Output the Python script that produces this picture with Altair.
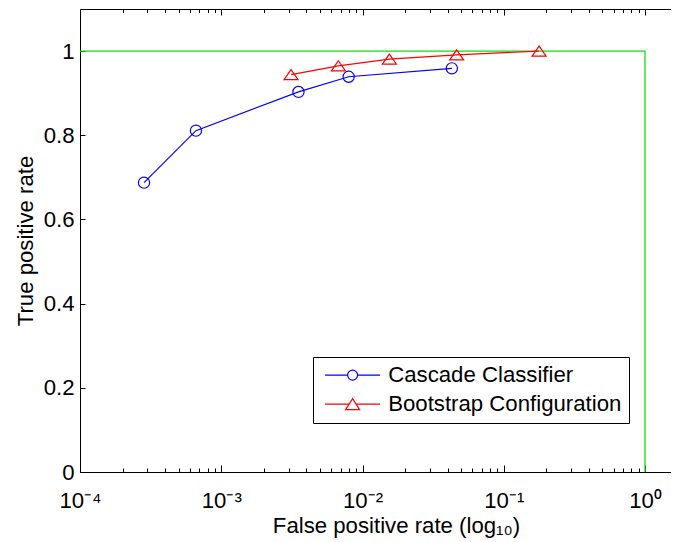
import altair as alt
import pandas as pd

# ---- data ----
series_names = ["Cascade Classifier", "Bootstrap Configuration"]
series_colors = ["#0000ff", "#ff0000"]

cascade_fpr = [2.84e-4, 6.62e-4, 3.52e-3, 7.98e-3, 4.29e-2]
cascade_tpr = [0.6875, 0.811, 0.903, 0.939, 0.959]

boot_fpr = [3.12e-3, 6.75e-3, 1.55e-2, 4.64e-2, 1.78e-1]
boot_tpr = [0.944, 0.965, 0.981, 0.991, 1.0]

ideal_fpr = [1e-4, 1.0, 1.0]
ideal_tpr = [1.0, 1.0, 0.0]

x_domain = [1e-4, 1.5277]
y_domain = [0, 1.1]
x_major = [1e-4, 1e-3, 1e-2, 1e-1, 1.0]
x_major_labels = ["10⁻⁴", "10⁻³", "10⁻²", "10⁻¹", "10⁰"]
x_minor = [0.0002, 0.0003, 0.0004, 0.0005, 0.0006, 0.0007, 0.0008, 0.0009,
           0.002, 0.003, 0.004, 0.005, 0.006, 0.007, 0.008, 0.009,
           0.02, 0.03, 0.04, 0.05, 0.06, 0.07, 0.08, 0.09,
           0.2, 0.3, 0.4, 0.5, 0.6, 0.7, 0.8, 0.9]
y_ticks = [0, 0.2, 0.4, 0.6, 0.8, 1.0]

# marker shapes (unit box -1..1)
circle_path = "M0.8,0A0.8,0.8 0 1,1 -0.8,0A0.8,0.8 0 1,1 0.8,0Z"
tri_path = "M0,-0.72L1,0.72L-1,0.72Z"
# legend symbols: line + marker (drawn at symbol size 400 -> 10 px per unit)
legend_paths = [
    "M-2.75,0L-0.5,0M0.5,0L2.75,0M0.5,0A0.5,0.5 0 1,1 -0.5,0A0.5,0.5 0 1,1 0.5,0Z",
    "M-2.75,0L-0.35,0M0.35,0L2.75,0M0,-0.55L0.7,0.55L-0.7,0.55Z",
]

series_df = pd.DataFrame({
    "fpr": cascade_fpr + boot_fpr,
    "tpr": cascade_tpr + boot_tpr,
    "series": [series_names[0]] * len(cascade_fpr) + [series_names[1]] * len(boot_fpr),
})
ideal_df = pd.DataFrame({"fpr": ideal_fpr, "tpr": ideal_tpr, "i": list(range(len(ideal_fpr)))})

FONT = "Liberation Sans, Arial, Helvetica, sans-serif"
FS = 22.2

xs = alt.Scale(type="log", domain=x_domain, nice=False)
ys = alt.Scale(domain=y_domain, nice=False, zero=False)

label_expr = "[" + ",".join(f"'{s}'" for s in x_major_labels) + "][round(log(datum.value)/LN10)+4]"

x_label_axis = alt.Axis(
    orient="bottom", values=x_major, labelExpr=label_expr, ticks=False,
    labelPadding=35, labelBaseline="alphabetic", labelFlush=False, labelOverlap=False,
    labelFont=FONT, labelFontSize=FS, labelColor="black",
    domain=True, domainColor="black", domainWidth=1, grid=False,
    title="False positive rate (log₁₀)", titleFont=FONT, titleFontSize=FS,
    titleFontWeight="normal", titleColor="black", titleX=316, titleY=60,
    titleBaseline="alphabetic", titleAlign="center",
)
x_major_bottom = alt.Axis(orient="bottom", values=x_major, labels=False, domain=False, grid=False,
                          offset=-7, tickSize=7, tickColor="black", title=None)
x_minor_bottom = alt.Axis(orient="bottom", values=x_minor, labels=False, domain=False, grid=False,
                          offset=-4, tickSize=4, tickColor="black", title=None)
x_major_top = alt.Axis(orient="top", values=x_major, labels=False, domain=False, grid=False,
                       offset=-6, tickSize=6, tickColor="black", title=None)
x_minor_top = alt.Axis(orient="top", values=x_minor, labels=False, domain=False, grid=False,
                       offset=-3.5, tickSize=3.5, tickColor="black", title=None)
x_top_frame = alt.Axis(orient="top", values=x_major, labels=False, ticks=False, domain=True,
                       domainColor="black", grid=False, title=None)

y_label_axis = alt.Axis(
    orient="left", values=y_ticks, format="~g", ticks=False,
    labelPadding=6, labelFlush=False, labelFont=FONT, labelFontSize=FS, labelColor="black",
    domain=True, domainColor="black", grid=False,
    title="True positive rate", titleFont=FONT, titleFontSize=FS, titleFontWeight="normal",
    titleColor="black", titleAngle=270, titleX=-48, titleY=231.5,
    titleBaseline="alphabetic", titleAlign="center",
)
y_tick_axis = alt.Axis(orient="left", values=y_ticks, labels=False, domain=False, grid=False,
                       offset=-5, tickSize=5, tickColor="black", title=None)

green = alt.Chart(ideal_df).mark_line(color="#11dd11", strokeWidth=1.3, clip=True).encode(
    x=alt.X("fpr:Q", scale=xs, axis=x_label_axis),
    y=alt.Y("tpr:Q", scale=ys, axis=y_label_axis),
    order="i:O",
)

blue_line = alt.Chart(series_df).transform_filter(
    alt.datum.series == series_names[0]
).mark_line(strokeWidth=1.2, color=series_colors[0], clip=True).encode(
    x=alt.X("fpr:Q", scale=xs, axis=x_minor_bottom),
    y=alt.Y("tpr:Q", scale=ys, axis=y_tick_axis),
)

red_line = alt.Chart(series_df).transform_filter(
    alt.datum.series == series_names[1]
).mark_line(strokeWidth=1.2, color=series_colors[1], clip=True).encode(
    x=alt.X("fpr:Q", scale=xs, axis=None),
    y=alt.Y("tpr:Q", scale=ys, axis=None),
)

circles = alt.Chart(series_df).transform_filter(
    alt.datum.series == series_names[0]
).mark_point(shape=circle_path, size=196, filled=False, strokeWidth=1.2, color=series_colors[0],
             opacity=1).encode(
    x=alt.X("fpr:Q", scale=xs, axis=x_major_bottom),
    y=alt.Y("tpr:Q", scale=ys, axis=None),
)

triangles = alt.Chart(series_df).transform_filter(
    alt.datum.series == series_names[1]
).mark_point(shape=tri_path, size=196, filled=False, strokeWidth=1.2, color=series_colors[1],
             opacity=1).encode(
    x=alt.X("fpr:Q", scale=xs, axis=x_major_top),
    y=alt.Y("tpr:Q", scale=ys, axis=None),
)

legend_def = alt.Legend(
    title=None, orient="none", legendX=233, legendY=348,
    padding=7, rowPadding=6, symbolOffset=21.5, labelOffset=24.5,
    symbolSize=400, symbolStrokeWidth=1.2, symbolFillColor="transparent", symbolOpacity=1,
    labelFont=FONT, labelFontSize=FS, labelColor="black", labelLimit=400,
    strokeColor="black", fillColor="white",
)

# legend carrier: same data, its own marks are fully transparent
proxy = alt.Chart(series_df).mark_point(size=400, filled=False, strokeWidth=1.2, opacity=0).encode(
    x=alt.X("fpr:Q", scale=xs, axis=x_minor_top),
    y=alt.Y("tpr:Q", scale=ys, axis=None),
    stroke=alt.Stroke("series:N", scale=alt.Scale(domain=series_names, range=series_colors), legend=legend_def),
    shape=alt.Shape("series:N", scale=alt.Scale(domain=series_names, range=legend_paths), legend=legend_def),
)

frame_top = alt.Chart(ideal_df).mark_point(opacity=0).encode(
    x=alt.X("fpr:Q", scale=xs, axis=x_top_frame),
    y=alt.Y("tpr:Q", scale=ys, axis=None),
)

chart = alt.layer(green, blue_line, red_line, circles, triangles, proxy, frame_top).resolve_axis(
    x="independent", y="independent"
).properties(
    width=591, height=463,
    autosize=alt.AutoSizeParams(type="none"),
    padding={"left": 72, "top": 1, "right": 0, "bottom": 70},
    background="white",
).configure_view(stroke=None)

chart.save("out.html", embed_options={"renderer": "svg", "actions": False})
